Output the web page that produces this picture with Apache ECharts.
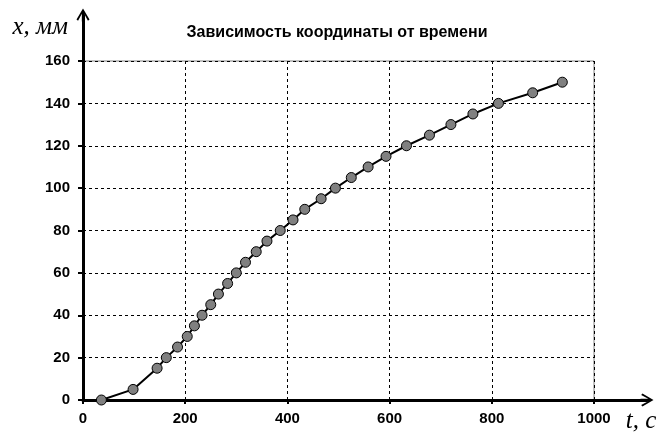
<!DOCTYPE html>
<html>
<head>
<meta charset="utf-8">
<script src="https://cdn.jsdelivr.net/npm/echarts@6/dist/echarts.min.js"></script>
<style>
  html, body { margin: 0; padding: 0; background: #fff; }
  #chart { width: 668px; height: 445px; }
</style>
</head>
<body>
<div id="chart"></div>
<script>
// время, с
var timeValues = [36, 98, 145, 163, 185, 204, 218, 233, 250, 265, 283, 300, 318, 339, 360,
                  386, 411, 434, 466, 494, 525, 558, 593, 633, 678, 720, 763, 813, 880, 938];
// координата, мм
var coordValues = [0, 5, 15, 20, 25, 30, 35, 40, 45, 50, 55, 60, 65, 70, 75,
                   80, 85, 90, 95, 100, 105, 110, 115, 120, 125, 130, 135, 140, 145, 150];
var xTicks = [0, 200, 400, 600, 800, 1000];
var yTicks = [0, 20, 40, 60, 80, 100, 120, 140, 160];

var points = [];
for (var i = 0; i < timeValues.length; i++) {
    points.push([timeValues[i], coordValues[i]]);
}

// стрелка-галочка на конце оси
var arrowPath = 'path://M5,0 L10,8.5 L8.8,9.5 L5.9,4 L5.9,10 L4.1,10 L4.1,4 L1.2,9.5 L0,8.5 Z';

var labelFont = { fontFamily: 'Liberation Sans', fontWeight: 'bold', fontSize: 15, color: '#000' };
var dashLine = { show: true, lineStyle: { color: '#000', type: [3, 3], width: 1 } };
var nameFont = { fontFamily: 'Liberation Serif', fontStyle: 'italic', fontSize: 25, color: '#000' };

var option = {
    backgroundColor: '#fff',
    animation: false,
    title: {
        text: 'Зависимость координаты от времени',
        left: 332, top: 20, textAlign: 'center',
        textStyle: { fontFamily: 'Liberation Sans', fontWeight: 'bold', fontSize: 16, color: '#000' }
    },
    grid: [
        // область данных
        { left: 83, right: 74, top: 61, bottom: 45, show: true, borderColor: '#808080', borderWidth: 1, backgroundColor: '#fff' },
        // оси со стрелками
        { left: 83, right: 21, top: 15, bottom: 45 }
    ],
    xAxis: [{
        gridIndex: 0, type: 'value', min: xTicks[0], max: xTicks[xTicks.length - 1], interval: 200,
        axisLine: { show: false },
        axisTick: { show: true, inside: false, length: 4, lineStyle: { color: '#000', width: 2 } },
        axisLabel: Object.assign({ margin: 11, formatter: function (v) { return String(v); } }, labelFont),
        splitLine: dashLine
    }, {
        gridIndex: 1, type: 'value', min: 0, max: 1,
        axisLine: { show: true, symbol: ['none', arrowPath], symbolSize: [13, 14], lineStyle: { color: '#000', width: 3 } },
        axisTick: { show: false }, axisLabel: { show: false }, splitLine: { show: false },
        name: 't, c', nameLocation: 'end', nameGap: -6,
        nameTextStyle: Object.assign({ align: 'center', verticalAlign: 'top', padding: [9, 0, 0, 0] }, nameFont)
    }],
    yAxis: [{
        gridIndex: 0, type: 'value', min: yTicks[0], max: yTicks[yTicks.length - 1], interval: 20,
        axisLine: { show: false },
        axisTick: { show: true, inside: false, length: 5, lineStyle: { color: '#000', width: 2 } },
        axisLabel: Object.assign({ margin: 13 }, labelFont),
        splitLine: dashLine
    }, {
        gridIndex: 1, type: 'value', min: 0, max: 1,
        axisLine: { show: true, symbol: ['none', arrowPath], symbolSize: [13, 14], lineStyle: { color: '#000', width: 3 } },
        axisTick: { show: false }, axisLabel: { show: false }, splitLine: { show: false },
        name: 'x, мм', nameLocation: 'end', nameGap: -12,
        nameTextStyle: Object.assign({ align: 'right', verticalAlign: 'middle', padding: [0, 15, 0, 0] }, nameFont)
    }],
    series: [{
        type: 'line',
        xAxisIndex: 0, yAxisIndex: 0,
        data: points,
        smooth: false,
        symbol: 'circle', symbolSize: 10,
        lineStyle: { color: '#000', width: 2 },
        itemStyle: { color: '#808080', borderColor: '#000', borderWidth: 1 },
        z: 5
    }]
};

var chart = echarts.init(document.getElementById('chart'));
chart.setOption(option);
</script>
</body>
</html>
